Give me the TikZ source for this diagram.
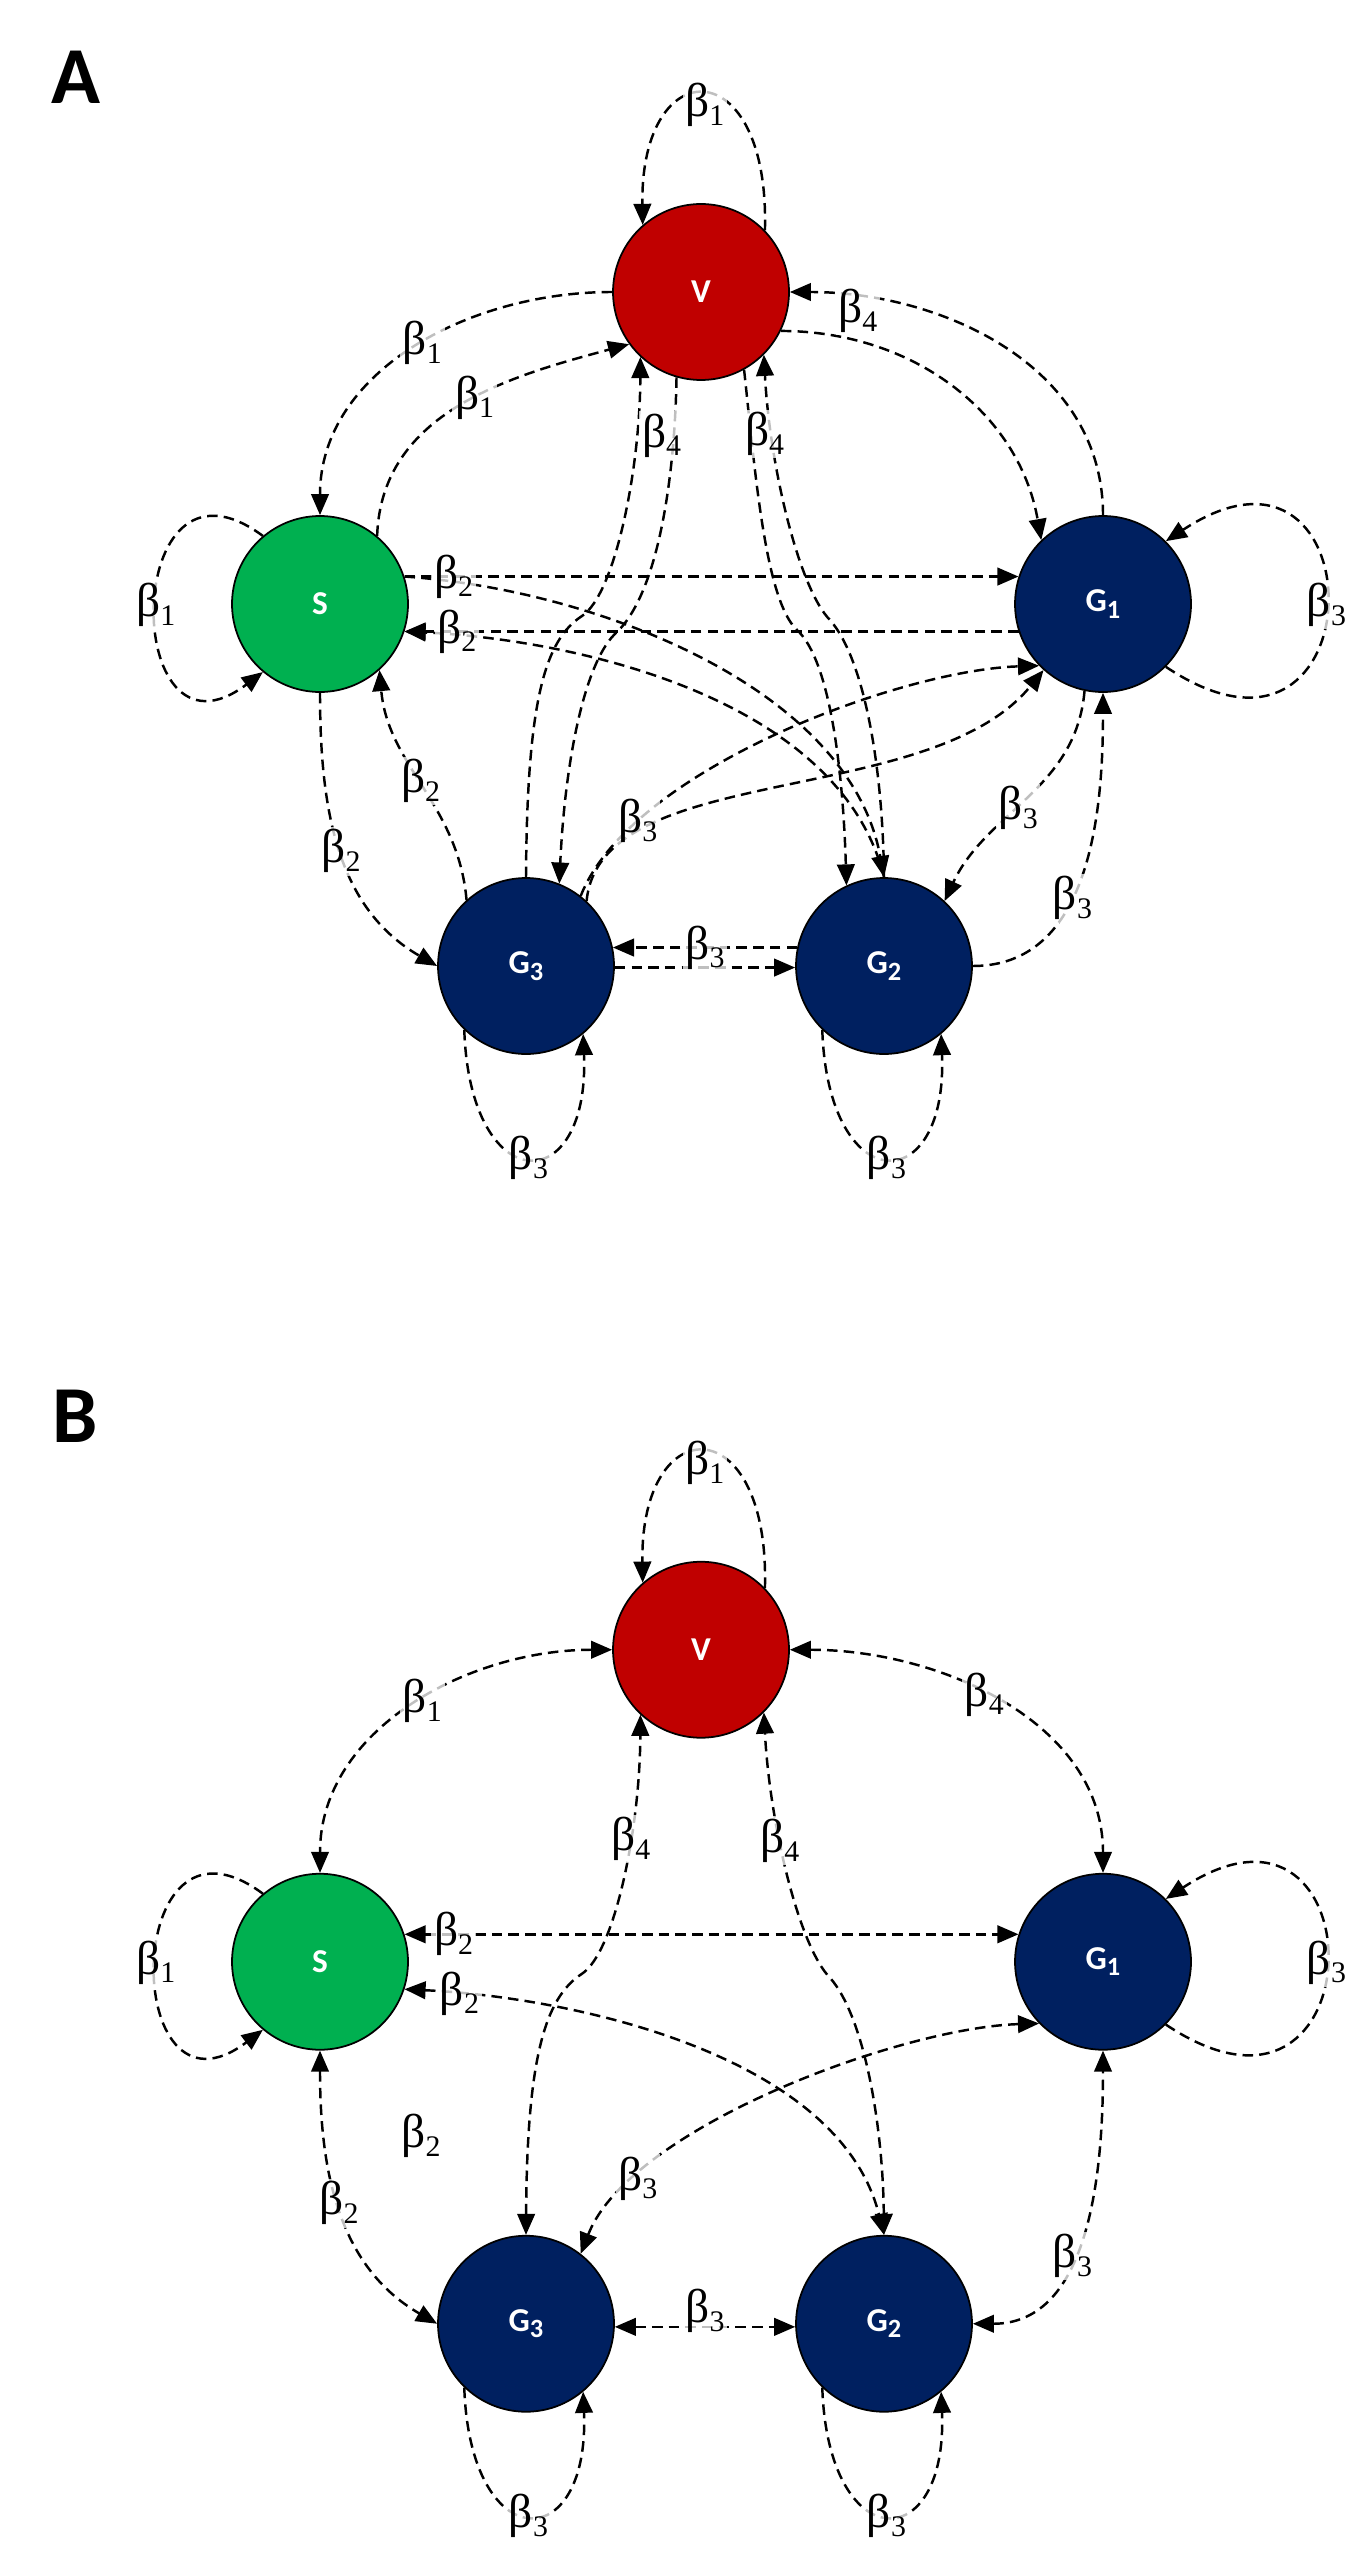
\documentclass[tikz,border=0pt]{standalone}
\usepackage{fontspec}
\setsansfont{Carlito}
\newfontfamily\grkfont{Liberation Serif}
\usepackage{tikz}
\usetikzlibrary{arrows.meta}
\usepackage{xcolor}
\definecolor{vred}{RGB}{192, 0, 0}
\definecolor{sgreen}{RGB}{0, 176, 80}
\definecolor{gblue}{RGB}{0, 32, 96}
\newcommand{\gsub}[1]{G\raisebox{-0.4ex}{\fontsize{15}{15}\selectfont #1}}
\newcommand{\brate}[1]{{\grkfont β\raisebox{-5pt}{\fontsize{17}{17}\selectfont #1}}}

\begin{document}
\begin{tikzpicture}[x=0.02cm, y=-0.02cm,
    state/.style={circle, draw=black, line width=1pt, minimum size=3.52cm, inner sep=0pt, text=white, font=\fontsize{19}{22}\selectfont\sffamily\bfseries},
    lbl/.style={fill=white, fill opacity=0.75, text opacity=1, inner sep=1.5pt, font=\fontsize{27}{30}\selectfont},
    conn/.style={line width=1.4pt, dash pattern=on 6pt off 3.5pt},
    panel/.style={font=\fontsize{46}{50}\selectfont\sffamily\bfseries},
    >={Triangle[length=12pt,width=10pt]}]
    \useasboundingbox (0,0) rectangle (1360,2554);

    % --- Panel A ---
    \node[panel] (labA) at (76,77) {A};
    \node[state, fill=vred] (V) at (701,292) {V};
    \node[state, fill=sgreen] (S) at (320,604) {S};
    \node[state, fill=gblue] (G1) at (1103,604) {\gsub{1}};
    \node[state, fill=gblue] (G3) at (526,966) {\gsub{3}};
    \node[state, fill=gblue] (G2) at (884,966) {\gsub{2}};

    % unlabelled links
    \draw[conn,->] (S.18) .. controls (600,590) and (850,690) .. (G2.north);
    \draw[conn,->] (G2.north) .. controls (840,700) and (580,640) .. (S.-18);
    \draw[conn,->] (V.334) to[out=0,in=100] (G1.134);
    \draw[conn,->] (G3.north) .. controls (527,700) and (545,640) .. (582,616) .. controls (615,594) and (640,470) .. (V.227);
    \draw[conn,->] (V.299) .. controls (755,470) and (765,600) .. (797,630) .. controls (830,660) and (843,770) .. (G2.115);
    \draw[conn,->] (G3.47) .. controls (600,760) and (930,810) .. (G1.228);
    \draw[conn,->] (G3.-1) -- (G2.181);

    % self loops
    \draw[conn,->] (V.44) .. controls (770,50) and (640,50) .. node[lbl,pos=0.5,yshift=-6pt] {\brate{1}} (V.131);
    \draw[conn,->] (S.130) .. controls (120,430) and (120,780) .. node[lbl,pos=0.5] {\brate{1}} (S.230);
    \draw[conn,->] (G1.315) .. controls (1380,810) and (1380,400) .. node[lbl,pos=0.5] {\brate{3}} (G1.45);
    \draw[conn,->] (G3.226) .. controls (470,1200) and (590,1200) .. node[lbl,pos=0.5] {\brate{3}} (G3.310);
    \draw[conn,->] (G2.226) .. controls (828,1200) and (948,1200) .. node[lbl,pos=0.5] {\brate{3}} (G2.310);

    % labelled links
    \draw[conn,->] (V.west) to[out=180,in=90] node[lbl,pos=0.47] {\brate{1}} (S.north);
    \draw[conn,->] (S.50) to[out=88,in=195] node[lbl,pos=0.55] {\brate{1}} (V.216);
    \draw[conn,->] (G1.north) to[out=90,in=0] node[lbl,pos=0.85,yshift=-8pt] {\brate{4}} (V.east);
    \draw[conn,->] (V.254) .. controls (675,470) and (660,590) .. node[lbl,pos=0.2,xshift=-7pt] {\brate{4}} (617,632) .. controls (585,660) and (565,760) .. (G3.68);
    \draw[conn,->] (G2.north) .. controls (883,770) and (865,660) .. (830,620) .. controls (800,590) and (770,470) .. node[lbl,pos=0.77,xshift=-4pt] {\brate{4}} (V.315);
    \draw[conn,->] (S.18) -- node[lbl,pos=0.08] {\brate{2}} (G1.162);
    \draw[conn,->] (G1.198) -- node[lbl,pos=0.915] {\brate{2}} (S.-18);
    \draw[conn,->] (S.south) to[out=-90,in=150] node[lbl,pos=0.5] {\brate{2}} (G3.west);
    \draw[conn,->] (G3.132) to[out=95,in=-85] node[lbl,pos=0.52] {\brate{2}} (S.-48);
    \draw[conn,->] (G3.52) .. controls (630,770) and (900,670) .. node[lbl,pos=0.21] {\brate{3}} (G1.224);
    \draw[conn,->] (G1.258) to[out=-95,in=65] node[lbl,pos=0.55] {\brate{3}} (G2.47);
    \draw[conn,->] (G2.east) to[out=0,in=-90] node[lbl,pos=0.42] {\brate{3}} (G1.south);
    \draw[conn,->] (G2.168) -- node[lbl,midway] {\brate{3}} (G3.12);

    % --- Panel B ---
    \node[panel] (labB) at (75,1416) {B};
    \begin{scope}[yshift=-27.16cm]
        \node[state, fill=vred] (Vb) at (701,292) {V};
        \node[state, fill=sgreen] (Sb) at (320,604) {S};
        \node[state, fill=gblue] (G1b) at (1103,604) {\gsub{1}};
        \node[state, fill=gblue] (G3b) at (526,966) {\gsub{3}};
        \node[state, fill=gblue] (G2b) at (884,966) {\gsub{2}};

        % self loops
        \draw[conn,->] (Vb.44) .. controls (770,50) and (640,50) .. node[lbl,pos=0.5,yshift=-6pt] {\brate{1}} (Vb.131);
        \draw[conn,->] (Sb.130) .. controls (120,430) and (120,780) .. node[lbl,pos=0.5] {\brate{1}} (Sb.230);
        \draw[conn,->] (G1b.315) .. controls (1380,810) and (1380,400) .. node[lbl,pos=0.5] {\brate{3}} (G1b.45);
        \draw[conn,->] (G3b.226) .. controls (470,1200) and (590,1200) .. node[lbl,pos=0.5] {\brate{3}} (G3b.310);
        \draw[conn,->] (G2b.226) .. controls (828,1200) and (948,1200) .. node[lbl,pos=0.5] {\brate{3}} (G2b.310);

        % two-way links
        \draw[conn,<->] (Vb.west) to[out=180,in=90] node[lbl,pos=0.47] {\brate{1}} (Sb.north);
        \draw[conn,<->] (Vb.east) to[out=0,in=90] node[lbl,pos=0.45] {\brate{4}} (G1b.north);
        \draw[conn,<->] (G3b.north) .. controls (527,700) and (545,640) .. (582,616) .. controls (615,594) and (640,470) .. node[lbl,pos=0.63] {\brate{4}} (Vb.227);
        \draw[conn,<->] (G2b.north) .. controls (883,770) and (865,660) .. (830,620) .. controls (800,590) and (770,470) .. node[lbl,pos=0.62] {\brate{4}} (Vb.315);
        \draw[conn,<->] (Sb.18) -- node[lbl,pos=0.08] {\brate{2}} (G1b.162);
        \draw[conn,<->] (Sb.-18) .. controls (580,640) and (840,700) .. node[lbl,pos=0.1] {\brate{2}} (G2b.north);
        \node[lbl] (orph) at (421,778) {\brate{2}};
        \draw[conn,<->] (Sb.south) to[out=-90,in=150] node[lbl,pos=0.48] {\brate{2}} (G3b.west);
        \draw[conn,<->] (G3b.52) .. controls (630,770) and (900,670) .. node[lbl,pos=0.21] {\brate{3}} (G1b.224);
        \draw[conn,<->] (G2b.east) to[out=0,in=-90] node[lbl,pos=0.42] {\brate{3}} (G1b.south);
        \draw[conn,<->] (G3b.-2) -- node[lbl,midway,yshift=9pt] {\brate{3}} (G2b.182);
    \end{scope}
\end{tikzpicture}
\end{document}
